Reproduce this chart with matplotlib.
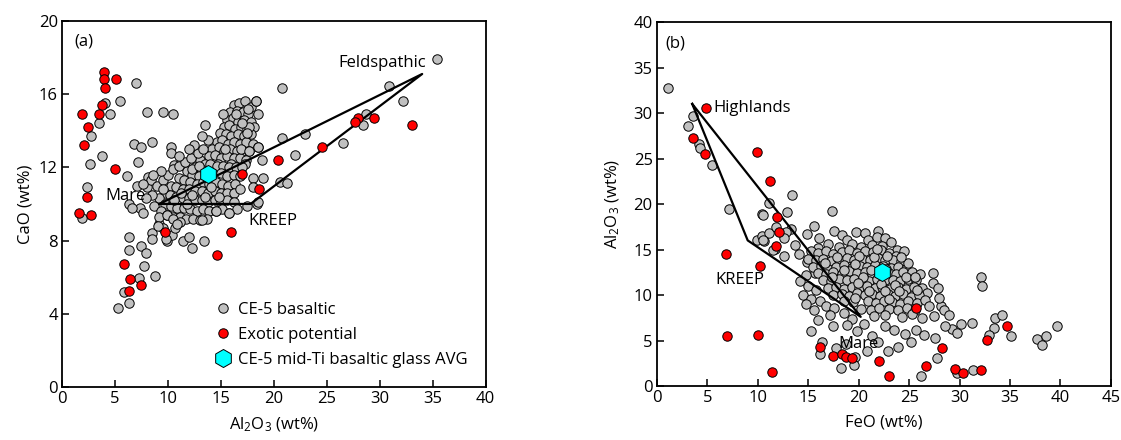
import numpy as np
import matplotlib.pyplot as plt
from matplotlib.lines import Line2D

plt.rcParams['font.family'] = ['Open Sans', 'DejaVu Sans']
plt.rcParams['mathtext.fontset'] = 'custom'
plt.rcParams['mathtext.rm'] = 'Open Sans'
plt.rcParams['mathtext.it'] = 'Open Sans'
plt.rcParams['font.size'] = 11

# ---- panel (a): CaO vs Al2O3 ----
gray_a = [
    # sparse, high CaO / low Al2O3
    (7.0, 16.6), (5.5, 15.6), (4.05, 15.5), (4.55, 14.9), (3.5, 14.4), (2.7, 13.7),
    (8.0, 15.0), (9.5, 15.05), (10.5, 14.9), (13.5, 14.3), (6.8, 13.3), (7.5, 13.1),
    (8.5, 13.4), (7.2, 12.3), (10.3, 13.1), (10.3, 12.8), (3.8, 12.6), (2.6, 12.2),
    (6.1, 11.5), (7.1, 11.0), (2.35, 10.9), (10.6, 12.15), (11.6, 12.1), (8.1, 11.45),
    (1.9, 9.25),
    # upper arm of the cluster
    (16.2, 15.4), (16.7, 15.5), (17.3, 15.6), (17.8, 15.3), (18.3, 15.6), (15.9, 15.0),
    (16.5, 15.1), (17.1, 15.0), (17.6, 14.9), (18.5, 14.9), (15.6, 14.6), (16.1, 14.7),
    (16.6, 14.5), (17.2, 14.6), (17.8, 14.5), (15.3, 14.2), (15.8, 14.3), (16.3, 14.1),
    (16.9, 14.2), (17.5, 14.1), (18.1, 14.2), (14.9, 13.9), (15.5, 13.8), (16.0, 13.7),
    (16.6, 13.8), (17.2, 13.7), (17.8, 13.8), (14.6, 13.4), (15.1, 13.5), (15.7, 13.3),
    (16.2, 13.4), (16.8, 13.3), (17.4, 13.4), (18.0, 13.3), (14.2, 13.0), (14.8, 13.1),
    (15.3, 12.9), (15.9, 13.0), (16.5, 12.9), (17.1, 12.9), (17.7, 12.9), (13.9, 12.6),
    (14.4, 12.7), (15.0, 12.5), (15.6, 12.6), (16.2, 12.5), (16.8, 12.5), (17.4, 12.4),
    (18.5, 13.1), (17.7, 14.2), (18.0, 11.4), (16.4, 14.9), (17.0, 14.4), (15.4, 13.0),
    (16.9, 13.0), (14.7, 12.2), (16.0, 12.2), (17.3, 12.2), (15.2, 14.9), (17.6, 15.2),
    # main body
    (13.0, 12.4), (13.5, 12.2), (12.6, 12.0), (13.1, 11.9), (14.0, 12.2), (14.6, 12.1),
    (15.2, 12.1), (15.8, 12.0), (16.4, 12.0), (17.0, 12.0), (11.8, 11.8), (12.3, 11.6),
    (12.9, 11.5), (14.4, 11.6), (15.0, 11.7), (15.6, 11.5), (16.2, 11.6), (16.8, 11.5),
    (11.0, 11.4), (11.5, 11.3), (12.1, 11.2), (12.7, 11.1), (13.3, 11.2), (13.9, 11.1),
    (14.5, 11.2), (15.1, 11.1), (15.7, 11.0), (16.3, 11.1), (10.3, 11.0), (10.8, 10.9),
    (11.4, 10.8), (12.0, 10.8), (12.6, 10.7), (13.2, 10.7), (13.8, 10.6), (14.4, 10.7),
    (15.0, 10.6), (15.6, 10.6), (16.2, 10.6), (16.8, 10.8), (9.7, 10.6), (10.2, 10.5),
    (10.8, 10.4), (11.4, 10.3), (12.0, 10.3), (12.6, 10.2), (13.2, 10.2), (13.8, 10.1),
    (14.4, 10.2), (15.0, 10.1), (15.6, 10.2), (16.2, 10.1), (9.2, 10.3), (9.7, 10.0),
    (10.3, 9.9), (10.9, 9.8), (11.5, 9.8), (12.1, 9.7), (12.7, 9.6), (13.3, 9.7),
    (13.9, 9.6), (14.5, 9.6), (15.1, 9.7), (15.8, 9.5), (16.5, 9.7), (17.5, 9.9),
    (18.4, 10.0), (8.7, 9.9), (9.3, 9.6), (9.9, 9.4), (10.5, 9.3), (11.1, 9.3),
    (11.7, 9.2), (12.4, 9.2), (13.0, 9.1), (13.7, 9.2), (8.5, 10.5), (8.0, 10.9),
    (8.4, 11.3), (9.0, 11.0), (9.5, 11.3), (10.0, 11.6), (10.5, 11.9), (9.3, 11.8),
    (8.6, 11.6), (7.6, 11.1), (7.9, 10.3), (11.0, 12.1), (11.6, 12.3), (12.2, 12.5),
    (12.8, 12.8), (13.3, 13.0), (13.8, 13.5), (12.5, 13.2), (13.2, 13.7), (12.0, 13.0),
    (11.0, 12.6), (12.3, 11.9), (13.6, 11.5), (11.2, 10.6), (12.3, 10.5), (13.5, 10.4),
    (14.1, 10.9), (10.6, 10.2), (11.8, 10.0), (14.8, 10.4), (9.5, 10.8), (12.9, 12.1),
    # below the Mare-KREEP line
    (6.3, 10.0), (7.4, 9.8), (7.6, 9.5), (6.6, 9.8), (8.5, 8.4), (8.5, 8.1),
    (6.3, 8.2), (6.3, 7.5), (7.5, 7.7), (7.9, 7.3), (7.7, 6.6), (8.8, 6.05),
    (7.3, 5.95), (5.85, 5.2), (6.3, 4.6), (5.3, 4.3), (9.2, 8.9), (9.9, 8.0),
    (10.4, 8.3), (11.4, 8.0), (12.0, 8.2), (12.3, 7.6), (13.4, 8.0), (9.2, 9.3),
    (9.9, 9.4), (10.5, 9.15), (11.1, 9.0), (10.7, 8.7), (9.5, 8.7), (9.8, 8.1),
    (10.9, 8.9), (13.2, 9.1), (9.1, 8.8), (14.5, 9.6), (15.8, 9.5),
    # toward Feldspathic
    (20.8, 16.35), (18.3, 15.6), (20.8, 13.6), (22.9, 13.8), (22.0, 12.7), (26.5, 13.35),
    (28.7, 14.9), (28.4, 14.3), (30.9, 16.45), (32.2, 15.6), (20.6, 11.2), (21.2, 11.15),
    (18.5, 10.1), (19.0, 11.4), (18.0, 10.9), (18.9, 12.4), (18.5, 13.1), (17.7, 12.9),
    (17.5, 13.9), (35.4, 17.9),
]

red_a_al = [3.96, 3.96, 5.1, 4.05, 3.8, 1.9, 3.5, 2.45, 2.1, 5.0, 2.4, 1.6, 2.7, 9.7,
            16.0, 14.6, 5.85, 6.4, 7.5, 6.3, 17.0, 18.6, 20.4, 24.5, 27.9, 27.7, 29.5, 33.0]
red_a_cao = [17.2, 16.8, 16.85, 16.35, 15.4, 14.9, 14.9, 14.2, 13.2, 11.9, 10.4, 9.5, 9.4, 8.45,
             8.45, 7.2, 6.7, 5.9, 5.55, 5.25, 11.65, 10.8, 12.4, 13.1, 14.7, 14.45, 14.7, 14.3]

avg_a = (13.8, 11.65)
tri_a_al = [9.2, 17.8, 34.0, 9.2]   # Mare, KREEP, Feldspathic
tri_a_cao = [10.0, 10.0, 17.1, 10.0]

# ---- panel (b): Al2O3 vs FeO ----
gray_b = [
    (1.1, 32.7), (3.55, 29.7), (3.1, 28.55), (4.15, 26.6), (4.25, 26.15), (5.45, 24.3),
    (7.15, 19.45), (10.4, 18.9), (11.1, 20.1), (9.9, 16.0), (10.4, 16.5), (10.6, 15.9),
    (11.1, 16.8), (11.8, 17.5), (11.7, 15.05),
    (13.4, 21.0), (17.4, 19.2), (12.9, 19.1), (10.5, 18.8), (15.6, 17.6), (13.3, 17.3),
    (12.8, 16.9), (10.5, 16.0), (12.6, 16.3), (13.7, 15.5), (14.9, 16.7), (12.6, 14.3),
    (11.5, 14.9), (14.1, 14.5), (14.9, 13.6), (15.7, 12.4), (14.8, 12.2),
    (17.6, 17.0), (18.3, 16.6), (19.7, 16.9), (20.6, 16.8), (21.9, 17.0), (16.1, 16.3),
    (18.8, 16.0), (20.9, 16.0), (21.8, 16.4), (22.6, 16.3), (23.2, 15.8), (19.3, 15.6),
    (20.2, 15.3), (21.3, 15.5), (22.3, 15.4), (17.0, 15.6), (18.0, 15.3), (16.0, 15.2),
    (23.8, 15.0), (24.5, 14.8),
    (15.3, 14.8), (16.0, 14.6), (16.8, 14.8), (17.5, 14.5), (18.3, 14.7), (19.0, 14.9),
    (19.8, 14.6), (20.6, 14.8), (21.4, 14.7), (22.2, 14.9), (23.0, 14.6), (23.7, 14.3),
    (15.0, 14.0), (15.8, 13.8), (16.5, 14.0), (17.3, 13.7), (18.0, 13.9), (18.8, 14.1),
    (19.5, 13.8), (20.3, 14.0), (21.1, 13.9), (21.9, 14.1), (22.6, 13.8), (23.4, 13.9),
    (24.2, 13.7), (15.5, 13.1), (16.3, 13.2), (17.0, 12.9), (17.8, 13.1), (18.5, 13.3),
    (19.3, 13.0), (20.1, 13.2), (20.8, 13.1), (21.6, 13.3), (22.4, 13.2), (23.2, 13.0),
    (23.9, 13.1), (24.7, 12.9), (16.0, 12.4), (16.8, 12.3), (17.5, 12.5), (18.3, 12.3),
    (19.0, 12.6), (19.8, 12.4), (20.6, 12.5), (21.3, 12.3), (22.0, 12.6), (23.0, 12.4),
    (23.7, 12.3), (24.4, 12.5), (25.3, 12.5), (26.1, 12.3), (27.4, 12.4), (24.9, 13.5),
    (16.5, 11.6), (17.3, 11.5), (18.0, 11.8), (18.8, 11.6), (19.5, 11.8), (20.3, 11.7),
    (21.0, 11.5), (21.8, 11.8), (22.6, 11.6), (23.4, 11.7), (24.1, 11.5), (24.9, 11.8),
    (25.7, 11.6), (27.4, 11.3), (17.0, 10.8), (17.8, 10.9), (18.5, 10.7), (19.3, 10.9),
    (20.0, 10.8), (20.8, 11.0), (21.6, 10.8), (22.3, 10.9), (23.1, 10.7), (23.9, 10.9),
    (24.7, 10.7), (25.5, 10.9), (26.3, 10.8), (26.8, 10.2), (17.5, 10.0), (18.3, 10.1),
    (19.0, 9.9), (19.8, 10.2), (20.6, 10.0), (21.3, 10.1), (22.1, 9.9), (22.9, 10.1),
    (23.6, 9.9), (24.4, 10.1), (25.2, 9.8), (26.0, 10.0), (18.5, 9.3), (19.4, 9.2),
    (20.9, 9.3), (21.7, 9.1), (22.5, 9.3), (23.3, 9.2), (24.1, 9.0), (24.9, 9.3),
    (25.8, 9.1), (26.6, 9.4), (20.2, 8.5), (21.2, 8.4), (22.0, 8.6), (23.0, 8.5),
    (23.9, 8.3), (24.8, 8.6), (25.6, 8.4), (27.0, 8.8), (28.2, 8.8), (28.5, 8.3),
    (21.5, 7.7), (22.6, 7.8), (24.3, 7.6), (25.3, 7.9), (26.3, 7.5), (27.5, 7.7),
    (20.0, 14.3), (21.5, 14.2), (22.8, 14.3), (19.6, 13.4), (21.2, 12.8), (22.7, 12.9),
    (20.4, 12.0), (22.2, 11.2), (23.6, 11.1), (19.9, 11.3), (21.0, 10.4), (22.6, 10.4),
    (24.0, 10.4), (19.6, 9.7), (23.0, 9.6), (24.7, 12.0), (25.6, 12.0), (18.5, 12.8),
    (17.4, 12.0), (25.8, 10.5), (16.7, 13.5), (17.9, 14.2), (24.2, 14.2), (21.8, 15.1),
    (14.2, 11.5), (15.0, 11.0), (15.8, 10.5), (14.5, 10.0), (15.3, 9.6), (16.2, 9.3),
    (16.8, 8.8), (17.6, 8.6), (15.6, 8.3), (14.8, 9.0), (17.2, 7.8), (18.5, 8.0),
    (19.3, 7.4), (16.0, 7.2), (15.3, 6.1), (17.5, 6.6), (18.8, 6.7), (20.5, 6.8),
    (19.8, 6.0), (21.3, 5.5), (22.6, 6.6), (23.5, 6.2), (24.6, 5.7), (25.7, 6.2),
    (26.5, 5.6), (27.6, 5.3), (16.4, 4.8), (17.8, 4.2), (18.7, 4.6), (19.6, 3.2),
    (20.8, 3.9), (21.9, 4.8), (22.9, 3.9), (23.9, 4.3), (25.2, 4.8), (26.2, 1.1),
    (27.8, 3.1), (19.5, 2.3), (16.2, 3.5), (18.2, 2.0),
    (32.1, 12.0), (32.2, 11.0), (29.2, 6.25), (29.7, 5.8), (30.1, 6.8), (31.2, 6.9),
    (33.5, 7.5), (34.2, 7.8), (33.4, 6.4), (32.9, 5.6), (35.1, 5.5), (37.7, 5.15),
    (38.2, 4.5), (38.6, 5.5), (39.7, 6.6), (29.7, 1.4), (31.3, 1.75), (28.0, 9.7),
    (27.9, 10.8), (29.0, 7.8), (28.6, 6.6),
]

red_b_feo = [4.85, 3.55, 4.75, 9.9, 11.2, 11.9, 12.1, 11.8, 10.2, 6.85, 6.95, 10.0, 11.4, 16.2,
             17.5, 18.3, 18.7, 19.3, 22.0, 23.0, 26.7, 28.3, 25.7, 29.5, 30.3, 32.1, 32.7, 34.7]
red_b_al = [30.5, 27.2, 25.5, 25.7, 22.5, 18.6, 16.9, 15.4, 13.2, 14.5, 5.5, 5.6, 1.5, 4.3,
            3.3, 3.5, 3.2, 3.1, 2.8, 1.1, 2.2, 4.2, 8.6, 1.85, 1.4, 1.75, 5.05, 6.6]

avg_b = (22.3, 12.5)
tri_b_feo = [3.5, 9.0, 20.2, 3.5]   # Highlands, KREEP, Mare
tri_b_al = [31.0, 16.0, 7.6, 31.0]

gray_c = '#c0c0c0'
pt = dict(s=46, edgecolors='black', linewidths=0.7)

fig = plt.figure(figsize=(11.21, 4.4), dpi=100)
ax1 = fig.add_axes([0.0553, 0.1205, 0.378, 0.832])
ax2 = fig.add_axes([0.586, 0.1227, 0.405, 0.8273])

ga = np.array(gray_a)
ax1.scatter(ga[:, 0], ga[:, 1], c=gray_c, zorder=2, **pt)
ax1.plot(tri_a_al, tri_a_cao, color='black', lw=1.6, zorder=3)
ax1.scatter(red_a_al, red_a_cao, c='red', zorder=4, **pt)
ax1.plot(*avg_a, marker='h', ms=13, mfc='#00ffff', mec='black', mew=0.7, zorder=5, ls='none')
ax1.text(5.95, 10.45, 'Mare', ha='center', va='center', fontsize=12)
ax1.text(17.6, 9.05, 'KREEP', ha='left', va='center', fontsize=12)
ax1.text(34.4, 17.7, 'Feldspathic', ha='right', va='center', fontsize=12)
ax1.text(0.03, 0.943, '(a)', transform=ax1.transAxes, ha='left', va='center', fontsize=12)
ax1.set_xlim(0, 40)
ax1.set_ylim(0, 20)
ax1.set_xticks(range(0, 41, 5))
ax1.set_yticks(range(0, 21, 4))
ax1.set_xlabel(r'Al$_2$O$_3$ (wt%)', fontsize=12, labelpad=6)
ax1.set_ylabel('CaO (wt%)', fontsize=12, labelpad=4)

handles = [
    Line2D([], [], ls='none', marker='o', ms=6.8, mfc=gray_c, mec='black', mew=0.7),
    Line2D([], [], ls='none', marker='o', ms=6.8, mfc='red', mec='black', mew=0.7),
    Line2D([], [], ls='none', marker='h', ms=13, mfc='#00ffff', mec='black', mew=0.7),
]
ax1.legend(handles, ['CE-5 basaltic', 'Exotic potential', 'CE-5 mid-Ti basaltic glass AVG'],
           loc='lower left', bbox_to_anchor=(0.33, 0.02), frameon=False, fontsize=12,
           handletextpad=0.3, labelspacing=0.55, borderaxespad=0.3, handlelength=1.2)

gb = np.array(gray_b)
ax2.scatter(gb[:, 0], gb[:, 1], c=gray_c, zorder=2, **pt)
ax2.plot(tri_b_feo, tri_b_al, color='black', lw=1.6, zorder=3)
ax2.scatter(red_b_feo, red_b_al, c='red', zorder=4, **pt)
ax2.plot(*avg_b, marker='h', ms=13, mfc='#00ffff', mec='black', mew=0.7, zorder=5, ls='none')
ax2.text(5.55, 30.5, 'Highlands', ha='left', va='center', fontsize=12)
ax2.text(5.75, 11.65, 'KREEP', ha='left', va='center', fontsize=12)
ax2.text(18.0, 4.6, 'Mare', ha='left', va='center', fontsize=12)
ax2.text(0.018, 0.94, '(b)', transform=ax2.transAxes, ha='left', va='center', fontsize=12)
ax2.set_xlim(0, 45)
ax2.set_ylim(0, 40)
ax2.set_xticks(range(0, 46, 5))
ax2.set_yticks(range(0, 41, 5))
ax2.set_xlabel('FeO (wt%)', fontsize=12, labelpad=6)
ax2.set_ylabel(r'Al$_2$O$_3$ (wt%)', fontsize=12, labelpad=8)

for ax in (ax1, ax2):
    ax.tick_params(direction='in', length=5, width=1.1, labelsize=12, pad=3)
    for sp in ax.spines.values():
        sp.set_linewidth(1.3)

fig.savefig('out.png', dpi=100)
